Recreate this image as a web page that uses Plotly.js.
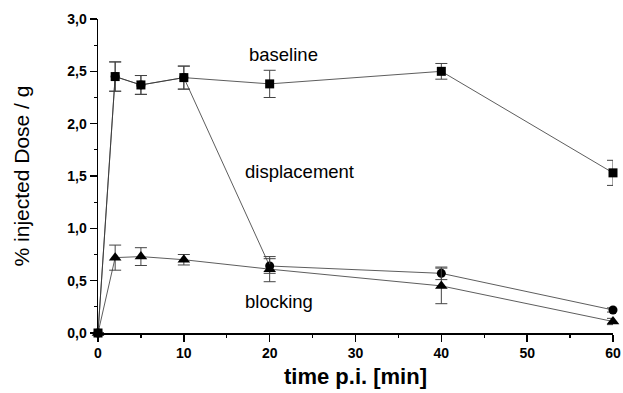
<!DOCTYPE html>
<html>
<head>
<meta charset="utf-8">
<script src="https://cdn.plot.ly/plotly-3.0.1.min.js"></script>
<style>html,body{margin:0;padding:0;background:#fff;}#chart{width:623px;height:393px;}</style>
</head>
<body>
<div id="chart"></div>
<script>
const timeMin = [0, 2, 5, 10, 20, 40, 60];
const baseline = [0, 2.45, 2.37, 2.44, 2.38, 2.50, 1.53];
const baselineErr = [0, 0.14, 0.09, 0.11, 0.13, 0.075, 0.12];
const displacement = [0, 2.45, 2.37, 2.44, 0.64, 0.57, 0.22];
const displacementErr = [0, 0.14, 0.09, 0.11, 0.07, 0.06, 0.02];
const blocking = [0, 0.72, 0.73, 0.70, 0.61, 0.45, 0.11];
const blockingErr = [0, 0.12, 0.085, 0.05, 0.12, 0.17, 0.03];
const labels = [
  {text: 'baseline', x: 21.6, y: 2.66},
  {text: 'displacement', x: 23.5, y: 1.54},
  {text: 'blocking', x: 21.1, y: 0.30}
];

function series(y, err, symbol, size) {
  return {
    x: timeMin, y: y, type: 'scatter', mode: 'lines+markers',
    line: {color: '#333', width: 0.8},
    marker: {symbol: symbol, size: size, color: '#000'},
    error_y: {type: 'data', array: err, visible: true, color: '#444', thickness: 1, width: 6},
    cliponaxis: false, showlegend: false
  };
}

const data = [
  series(displacement, displacementErr, 'circle', 9),
  series(blocking, blockingErr, 'triangle-up', 11),
  series(baseline, baselineErr, 'square', 9)
];

const layout = {
  width: 623, height: 393,
  margin: {l: 98, r: 10, t: 19, b: 60},
  paper_bgcolor: '#fff', plot_bgcolor: '#fff',
  separators: ',.',
  font: {family: 'Arial, Liberation Sans, sans-serif', color: '#000'},
  xaxis: {
    range: [0, 60], showgrid: false, zeroline: false,
    showline: true, linecolor: '#000', linewidth: 1.5,
    ticks: 'outside', ticklen: 7, tickwidth: 1.5, tickcolor: '#000',
    tickvals: [0, 10, 20, 30, 40, 50, 60],
    minor: {tickvals: [5, 15, 25, 35, 45, 55], ticks: 'outside', ticklen: 3, tickwidth: 1.2, tickcolor: '#000'},
    tickfont: {size: 14, weight: 'bold'},
    title: {text: 'time p.i. [min]', font: {size: 22, weight: 'bold'}, standoff: 8}
  },
  yaxis: {
    range: [0, 3], showgrid: false, zeroline: false,
    showline: true, linecolor: '#000', linewidth: 1.5,
    ticks: 'outside', ticklen: 7, tickwidth: 1.5, tickcolor: '#000',
    tickvals: [0, 0.5, 1, 1.5, 2, 2.5, 3], tickformat: '.1f',
    minor: {tickvals: [0.25, 0.75, 1.25, 1.75, 2.25, 2.75], ticks: 'outside', ticklen: 3, tickwidth: 1.2, tickcolor: '#000'},
    tickfont: {size: 14, weight: 'bold'},
    title: {text: '% injected Dose / g', font: {size: 21}, standoff: 32}
  },
  annotations: labels.map(l => ({
    text: l.text, x: l.x, y: l.y, xref: 'x', yref: 'y', showarrow: false,
    font: {size: 18.5, color: '#000'}
  }))
};

Plotly.newPlot('chart', data, layout, {displayModeBar: false, staticPlot: true});
</script>
</body>
</html>
